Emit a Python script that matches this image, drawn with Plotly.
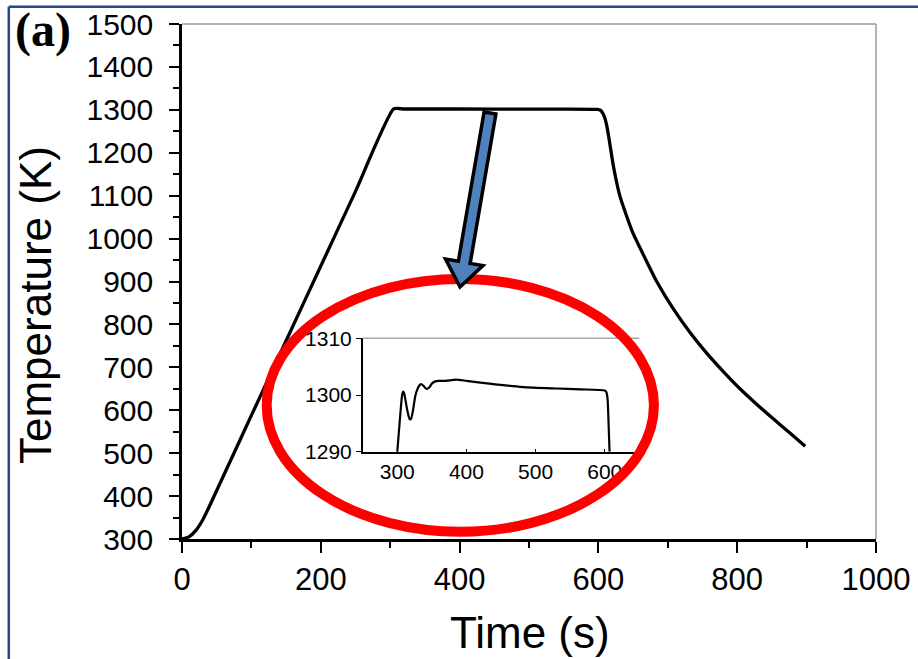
import math
import plotly.graph_objects as go

# ---- data ----
# main curve: heating ramp, hold, cooling
ramp_t = [0, 10, 20, 30, 40, 50, 60, 80, 100, 150, 200, 250, 305]
ramp_T = [300, 305, 320, 345, 378, 413, 448, 518, 588, 762, 936, 1110, 1302]
plateau_t = [320, 400, 500, 598]
plateau_T = [1302, 1302, 1301.5, 1301]
cool_t = [603, 606, 609, 612, 615, 618, 621.5, 626, 631, 641, 650, 667, 684, 708, 732, 756,
          780, 804, 828, 852, 876, 898]
cool_T = [1299, 1293, 1282, 1264, 1236, 1205, 1170, 1133, 1099, 1051, 1012, 955, 900, 836,
          781, 733, 690, 650, 614, 580, 547, 516]

# inset: zoom of the hold stage
hold_t = [300, 302, 305, 307, 308.5, 310, 312, 315, 318, 320, 323, 326, 329, 332, 335, 338,
          342, 346, 350, 355, 360, 370, 385, 400, 433, 482, 530, 565, 600, 602, 604, 605, 606, 607]
hold_T = [1290, 1293, 1297.5, 1300, 1300.6, 1300.3, 1299, 1297, 1295.7, 1295.8, 1297.5, 1299.8,
          1301, 1301.7, 1301.9, 1301.6, 1301.1, 1301.3, 1302, 1302.4, 1302.5, 1302.5, 1302.7,
          1302.5, 1302.0, 1301.4, 1301.15, 1301.0, 1300.8, 1300.6, 1299.5, 1297, 1293.5, 1290]

main_t = ramp_t + plateau_t + cool_t
main_T = ramp_T + plateau_T + cool_T

x_ticks = [0, 200, 400, 600, 800, 1000]
y_ticks = list(range(300, 1501, 100))
inset_x_ticks = [300, 400, 500, 600]
inset_y_ticks = [1290, 1300, 1310]

FONT = "Liberation Sans, Arial, sans-serif"

# ---- layout geometry (pixels) ----
W, H = 918, 659
L, R, T, B = 182, 42, 24, 120
PW, PH = W - L - R, H - T - B


def px(xp, yp):
    """pixel -> paper coords"""
    return (xp - L) / PW, (H - B - yp) / PH


fig = go.Figure()
fig.add_trace(go.Scatter(x=main_t, y=main_T, mode="lines",
                         line=dict(color="black", width=3.3, shape="spline", smoothing=0.5),
                         showlegend=False))
fig.add_trace(go.Scatter(x=hold_t, y=hold_T, mode="lines", xaxis="x2", yaxis="y2",
                         line=dict(color="black", width=2.2, shape="spline", smoothing=0.6),
                         showlegend=False))

ix0, iy1 = px(362.7, 338.3)
ix1, iy0 = px(639.3, 451.7)

fig.update_layout(
    width=W, height=H,
    margin=dict(l=L, r=R, t=T, b=B, pad=0),
    paper_bgcolor="white", plot_bgcolor="white",
    font=dict(family=FONT, color="black"),
    xaxis=dict(range=[0, 1000], tickvals=x_ticks, ticks="outside", ticklen=11, tickwidth=2,
               tickcolor="black", showline=True, linecolor="black", linewidth=2.5,
               showgrid=False, zeroline=False, tickfont=dict(size=31, family=FONT),
               minor=dict(dtick=100, ticks="outside", ticklen=6, tickwidth=2, tickcolor="black"),
               ticklabelstandoff=0, automargin=False),
    yaxis=dict(range=[300, 1500], tickvals=y_ticks, ticks="outside", ticklen=10, tickwidth=2,
               tickcolor="black", showline=True, linecolor="black", linewidth=2.5,
               showgrid=False, zeroline=False, tickfont=dict(size=30, family=FONT),
               minor=dict(dtick=50, ticks="outside", ticklen=6, tickwidth=2, tickcolor="black"),
               ticklabelstandoff=10, automargin=False),
    xaxis2=dict(domain=[ix0, ix1], anchor="y2", range=[250, 650], tickvals=inset_x_ticks,
                ticks="inside", ticklen=3, tickcolor="black", showline=True, linecolor="black",
                linewidth=1.5, showgrid=False, zeroline=False, automargin=False,
                tickfont=dict(size=21, family=FONT)),
    yaxis2=dict(domain=[iy0, iy1], anchor="x2", range=[1290, 1310], tickvals=inset_y_ticks,
                ticks="outside", ticklen=5, tickcolor="black", showline=True, linecolor="black",
                linewidth=1.5, showgrid=False, zeroline=False, automargin=False,
                tickfont=dict(size=21, family=FONT)),
)

shapes = []
# grey top / right frame of main plot
shapes.append(dict(type="line", xref="paper", yref="paper", x0=0, x1=1, y0=1, y1=1,
                   line=dict(color="#999999", width=1.5)))
shapes.append(dict(type="line", xref="paper", yref="paper", x0=1, x1=1, y0=0, y1=1,
                   line=dict(color="#999999", width=1.5)))
# inset grey top line
shapes.append(dict(type="line", xref="paper", yref="paper", x0=ix0, x1=ix1, y0=iy1, y1=iy1,
                   line=dict(color="#AAAAAA", width=1.5)))
# red ellipse
shapes.append(dict(type="circle", xref="x", yref="y", x0=122, x1=680, y0=317, y1=906,
                   line=dict(color="#FF0000", width=10), layer="above"))
# blue arrow
t0 = (490, 113)
tip = (460, 287)
dx, dy = tip[0] - t0[0], tip[1] - t0[1]
ln = math.hypot(dx, dy)
ux, uy = dx / ln, dy / ln
nx, ny = -uy, ux
w, hw, hl = 6, 19, 25
bx, by = tip[0] - hl * ux, tip[1] - hl * uy
pts = [
    (t0[0] + w * nx, t0[1] + w * ny),
    (bx + w * nx, by + w * ny),
    (bx + hw * nx, by + hw * ny),
    tip,
    (bx - hw * nx, by - hw * ny),
    (bx - w * nx, by - w * ny),
    (t0[0] - w * nx, t0[1] - w * ny),
]
path = "M " + " L ".join("%.5f,%.5f" % px(*p) for p in pts) + " Z"
shapes.append(dict(type="path", xref="paper", yref="paper", path=path,
                   fillcolor="#4F81BD", line=dict(color="black", width=3.5), layer="above"))
# dark blue frame around the figure
fx0, fy0 = px(8.8, 6.7)
fx1, fy1 = px(930, 670)
shapes.append(dict(type="line", xref="paper", yref="paper", x0=fx0, x1=fx1, y0=fy0, y1=fy0,
                   line=dict(color="#1F4A86", width=2.5)))
shapes.append(dict(type="line", xref="paper", yref="paper", x0=fx0, x1=fx0, y0=fy0, y1=fy1,
                   line=dict(color="#1F4A86", width=2.5)))
fig.update_layout(shapes=shapes)

ann = []
ax, ay = px(530, 632)
ann.append(dict(text="Time (s)", xref="paper", yref="paper", x=ax, y=ay, showarrow=False,
                xanchor="center", yanchor="middle", font=dict(size=44, family=FONT)))
ax, ay = px(35, 305)
ann.append(dict(text="Temperature (K)", xref="paper", yref="paper", x=ax, y=ay, showarrow=False,
                textangle=-90, xanchor="center", yanchor="middle", font=dict(size=44, family=FONT)))
ax, ay = px(13, 30)
ann.append(dict(text="<b>(a)</b>", xref="paper", yref="paper", x=ax, y=ay, showarrow=False,
                xanchor="left", yanchor="middle",
                font=dict(size=48, family="Liberation Serif, Times New Roman, serif")))
fig.update_layout(annotations=ann)

fig.write_html("out.html")
